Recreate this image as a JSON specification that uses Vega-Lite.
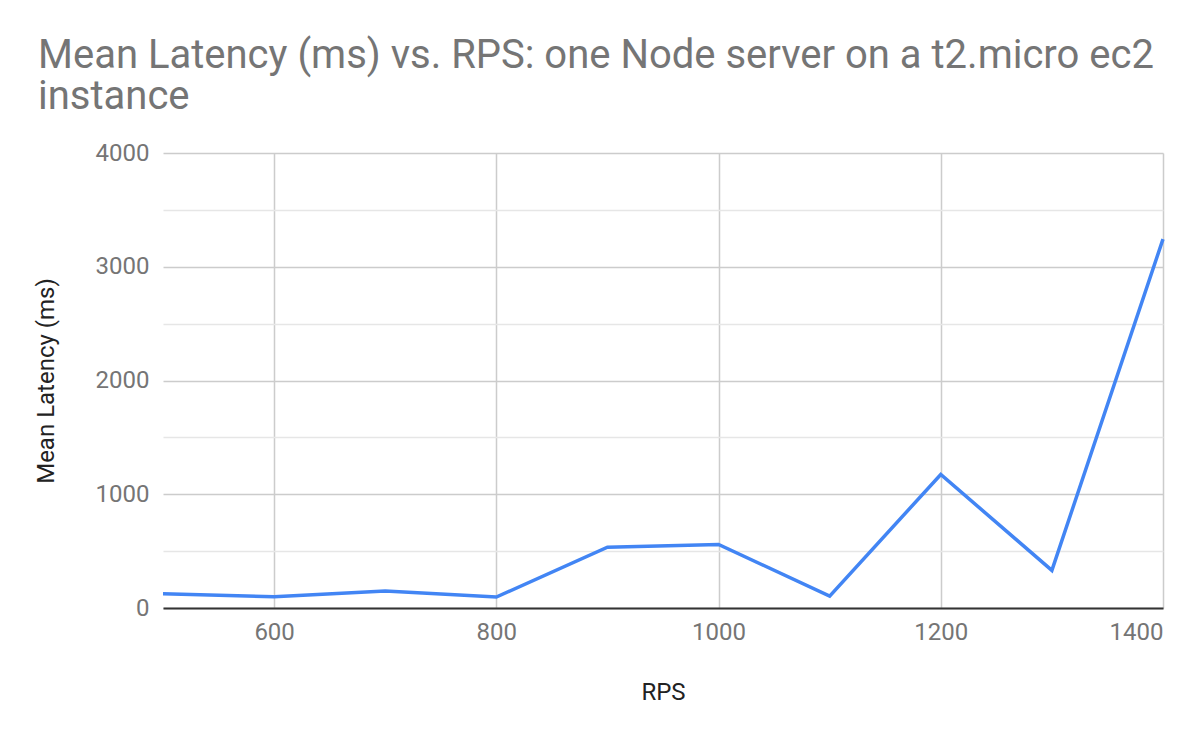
{
  "$schema": "https://vega.github.io/schema/vega-lite/v6.json",
  "width": 1000,
  "height": 455,
  "autosize": {"type": "none"},
  "padding": {"left": 163, "top": 153, "right": 37, "bottom": 134},
  "background": "white",
  "title": {
    "text": ["Mean Latency (ms) vs. RPS: one Node server on a t2.micro ec2", "instance"],
    "anchor": "start",
    "frame": "group",
    "font": "Roboto",
    "fontSize": 40,
    "fontWeight": "normal",
    "color": "#757575",
    "lineHeight": 41,
    "dx": -125,
    "offset": 24
  },
  "config": {
    "view": {"stroke": null},
    "axis": {"labelFont": "Roboto", "titleFont": "Roboto"}
  },
  "data": {
    "values": [
      {"RPS": 500, "latency": 125},
      {"RPS": 600, "latency": 99},
      {"RPS": 700, "latency": 150},
      {"RPS": 800, "latency": 96},
      {"RPS": 900, "latency": 535},
      {"RPS": 1000, "latency": 558},
      {"RPS": 1100, "latency": 105},
      {"RPS": 1200, "latency": 1174},
      {"RPS": 1300, "latency": 331},
      {"RPS": 1400, "latency": 3243}
    ]
  },
  "mark": {"type": "line", "color": "#4285F4", "strokeWidth": 3.5},
  "encoding": {
    "x": {
      "field": "RPS", "type": "quantitative",
      "scale": {"domain": [500, 1400], "nice": false, "zero": false},
      "axis": {
        "values": [600, 800, 1000, 1200, 1400],
        "format": "d",
        "grid": true, "gridColor": "#cccccc", "gridWidth": 1.5,
        "ticks": false,
        "domain": true, "domainColor": "#333333", "domainWidth": 2,
        "labelFontSize": 24, "labelColor": "#757575", "labelPadding": 12,
        "title": "RPS", "titleFontSize": 24, "titleFontWeight": "normal", "titleColor": "#222222", "titlePadding": 36
      }
    },
    "y": {
      "field": "latency", "type": "quantitative",
      "scale": {"domain": [0, 4000], "nice": false},
      "axis": {
        "values": [0, 500, 1000, 1500, 2000, 2500, 3000, 3500, 4000],
        "format": "d",
        "labelExpr": "datum.value % 1000 === 0 ? datum.label : ''",
        "grid": true,
        "gridColor": {"condition": {"test": "datum.value % 1000 === 0", "value": "#cccccc"}, "value": "#e6e6e6"},
        "gridWidth": 1.5,
        "ticks": false, "domain": false,
        "labelFontSize": 24, "labelColor": "#757575", "labelPadding": 14,
        "title": "Mean Latency (ms)", "titleFontSize": 24, "titleFontWeight": "normal", "titleColor": "#222222", "titlePadding": 37
      }
    }
  }
}
